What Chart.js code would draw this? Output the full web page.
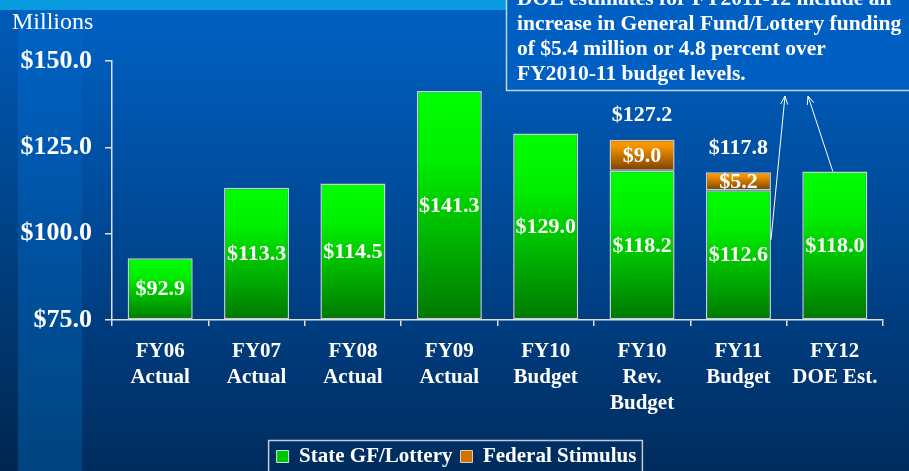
<!DOCTYPE html>
<html>
<head>
<meta charset="utf-8">
<script src="https://cdn.jsdelivr.net/npm/chart.js@4.4.1/dist/chart.umd.min.js"></script>
<style>
  html, body { margin: 0; padding: 0; background: #003a78; }
  #wrap { width: 909px; height: 471px; position: relative; }
</style>
</head>
<body>
<div id="wrap"><canvas id="chart" width="909" height="471"></canvas></div>
<script>
// chart data
const categories = [
  ["FY06", "Actual"], ["FY07", "Actual"], ["FY08", "Actual"], ["FY09", "Actual"],
  ["FY10", "Budget"], ["FY10", "Rev.", "Budget"], ["FY11", "Budget"], ["FY12", "DOE Est."]
];
const stateGF = [92.9, 113.3, 114.5, 141.3, 129.0, 118.2, 112.6, 118.0];
const stimulus = [null, null, null, null, null, 9.0, 5.2, null];
const seriesNames = ["State GF/Lottery", "Federal Stimulus"];
const yMin = 75, yMax = 150, yStep = 25;
const unitLabel = "Millions";
const noteLines = [
  "DOE estimates for FY2011-12 include an",
  "increase in General Fund/Lottery funding",
  "of $5.4 million or 4.8 percent over",
  "FY2010-11 budget levels."
];

const SERIF = "'Liberation Serif', 'Times New Roman', serif";
const money = v => "$" + v.toFixed(1);

// vertical gradient for one bar segment
function segGradient(c, lo, hi, stops) {
  const chart = c.chart;
  if (!chart.chartArea || c.raw == null) return stops[0][1];
  const y = chart.scales.y;
  const top = y.getPixelForValue(hi);
  const bot = y.getPixelForValue(lo);
  if (!isFinite(top) || !isFinite(bot) || top === bot) return stops[0][1];
  const g = chart.ctx.createLinearGradient(0, top, 0, bot);
  stops.forEach(s => g.addColorStop(s[0], s[1]));
  return g;
}
const greenStops = [[0, "#00ff00"], [0.3, "#00ee00"], [1, "#007800"]];
const orangeStops = [[0, "#ff9a00"], [0.25, "#f09000"], [1, "#7a3e00"]];

// background, unit label, note box, arrows
const decorPlugin = {
  id: "decor",
  afterLayout(chart) {
    // let the y tick labels use the space left of the axis box
    chart.scales.y.left = 0;
  },
  beforeDraw(chart) {
    const ctx = chart.ctx, W = chart.width, H = chart.height;
    ctx.save();
    let g = ctx.createLinearGradient(0, 0, 0, H);
    g.addColorStop(0, "#0062c6");
    g.addColorStop(0.45, "#004a98");
    g.addColorStop(1, "#002c5e");
    ctx.fillStyle = g;
    ctx.fillRect(0, 0, W, H);
    g = ctx.createLinearGradient(0, 0, 0, H);
    g.addColorStop(0, "#005cba");
    g.addColorStop(1, "#00264f");
    ctx.fillStyle = g;
    ctx.fillRect(0, 0, 18, H);
    g = ctx.createLinearGradient(0, 0, 0, H);
    g.addColorStop(0, "#0064c8");
    g.addColorStop(0.5, "#0052a2");
    g.addColorStop(1, "#00447f");
    ctx.fillStyle = g;
    ctx.fillRect(18, 0, 64, H);
    ctx.fillStyle = "#0a9ae0";
    ctx.fillRect(0, 0, W, 10);
    ctx.fillStyle = "#ffffff";
    ctx.font = "24px " + SERIF;
    ctx.textBaseline = "alphabetic";
    ctx.fillText(unitLabel, 12, 29);
    ctx.restore();
  },
  afterDraw(chart) {
    const ctx = chart.ctx;
    ctx.save();
    // note box
    ctx.fillStyle = "#005fc2";
    ctx.fillRect(506, -10, 420, 100);
    ctx.strokeStyle = "rgba(230,230,230,0.85)";
    ctx.lineWidth = 1.5;
    ctx.strokeRect(506.5, -10, 420, 100.5);
    ctx.fillStyle = "#ffffff";
    ctx.font = "bold 21.5px " + SERIF;
    ctx.textBaseline = "alphabetic";
    noteLines.forEach((t, i) => ctx.fillText(t, 517, 4.5 + i * 25.3));

    // arrows from the bars up to the note
    const y = chart.scales.y;
    const green = chart.getDatasetMeta(0).data;
    const fy11 = green[6], fy12 = green[7];
    const arrows = [
      [fy11.x + fy11.width / 2, y.getPixelForValue(98.2), 785, 96],
      [fy12.x - 2, fy12.y, 808, 96]
    ];
    ctx.strokeStyle = "#ffffff";
    ctx.lineWidth = 1;
    arrows.forEach(a => {
      const [x0, y0, x1, y1] = a;
      ctx.beginPath();
      ctx.moveTo(x0, y0);
      ctx.lineTo(x1, y1);
      ctx.stroke();
      const ang = Math.atan2(y1 - y0, x1 - x0);
      ctx.beginPath();
      ctx.moveTo(x1 - 9 * Math.cos(ang - 0.4), y1 - 9 * Math.sin(ang - 0.4));
      ctx.lineTo(x1, y1);
      ctx.lineTo(x1 - 9 * Math.cos(ang + 0.4), y1 - 9 * Math.sin(ang + 0.4));
      ctx.stroke();
    });

    // legend border
    const boxes = chart.legend.legendHitBoxes;
    if (boxes && boxes.length) {
      const first = boxes[0], last = boxes[boxes.length - 1];
      ctx.strokeStyle = "rgba(220,220,220,0.9)";
      ctx.lineWidth = 1.5;
      ctx.strokeRect(first.left - 8, first.top - 5.5, last.left + last.width - first.left + 14, 60);
    }
    ctx.restore();
  }
};

// value labels in and above the bars
const labelPlugin = {
  id: "valueLabels",
  afterDatasetsDraw(chart) {
    const ctx = chart.ctx;
    ctx.save();
    ctx.fillStyle = "#ffffff";
    ctx.font = "bold 22px " + SERIF;
    ctx.textAlign = "center";
    ctx.textBaseline = "middle";
    [stateGF, stimulus].forEach((vals, di) => {
      chart.getDatasetMeta(di).data.forEach((el, i) => {
        if (vals[i] == null) return;
        ctx.fillText(money(vals[i]), el.x, (el.y + el.base) / 2 + 1);
      });
    });
    chart.getDatasetMeta(1).data.forEach((el, i) => {
      if (stimulus[i] == null) return;
      ctx.fillText(money(stateGF[i] + stimulus[i]), el.x, el.y - 24);
    });
    ctx.restore();
  }
};

new Chart(document.getElementById("chart"), {
  type: "bar",
  data: {
    labels: categories,
    datasets: [
      {
        label: seriesNames[0],
        data: stateGF,
        base: yMin,
        backgroundColor: c => segGradient(c, yMin, stateGF[c.dataIndex], greenStops),
        borderColor: "rgba(215,225,215,0.9)",
        borderWidth: 1.5,
        borderSkipped: false,
        categoryPercentage: 1,
        barPercentage: 0.675
      },
      {
        label: seriesNames[1],
        data: stimulus,
        backgroundColor: c => segGradient(c, stateGF[c.dataIndex], stateGF[c.dataIndex] + (stimulus[c.dataIndex] || 0), orangeStops),
        borderColor: "rgba(230,215,190,0.9)",
        borderWidth: 1.5,
        borderSkipped: false,
        categoryPercentage: 1,
        barPercentage: 0.675
      }
    ]
  },
  options: {
    responsive: false,
    animation: false,
    layout: { padding: { left: 30, right: 26, top: 61, bottom: -6 } },
    scales: {
      x: {
        stacked: true,
        grid: { display: true, drawOnChartArea: false, drawTicks: true, tickLength: 6, color: "#e0e0e0", lineWidth: 1.5, offset: true },
        border: { display: true, color: "#e0e0e0", width: 1.5 },
        ticks: {
          color: "#ffffff",
          font: { family: SERIF, size: 21, weight: "bold", lineHeight: 1.25 },
          padding: 12,
          maxRotation: 0,
          autoSkip: false
        },
        afterFit: s => { s.height = 118; }
      },
      y: {
        stacked: true,
        min: yMin,
        max: yMax,
        grid: { display: true, drawOnChartArea: false, drawTicks: true, tickLength: 7, color: "#e0e0e0", lineWidth: 1.5 },
        border: { display: true, color: "#e0e0e0", width: 1.5 },
        ticks: {
          stepSize: yStep,
          color: "#ffffff",
          font: { family: SERIF, size: 26, weight: "bold" },
          padding: 13,
          callback: v => money(v)
        },
        afterFit: s => { s.width = 82; }
      }
    },
    plugins: {
      tooltip: { enabled: false },
      legend: {
        position: "bottom",
        labels: {
          color: "#ffffff",
          font: { family: SERIF, size: 21, weight: "bold" },
          boxWidth: 12,
          boxHeight: 12,
          padding: 8,
          generateLabels: () => [
            { text: seriesNames[0], fillStyle: "#00c800", strokeStyle: "#d0e0d0", lineWidth: 1, fontColor: "#ffffff", datasetIndex: 0 },
            { text: seriesNames[1], fillStyle: "#d07400", strokeStyle: "#e0d0c0", lineWidth: 1, fontColor: "#ffffff", datasetIndex: 1 }
          ]
        }
      }
    }
  },
  plugins: [decorPlugin, labelPlugin]
});
</script>
</body>
</html>
